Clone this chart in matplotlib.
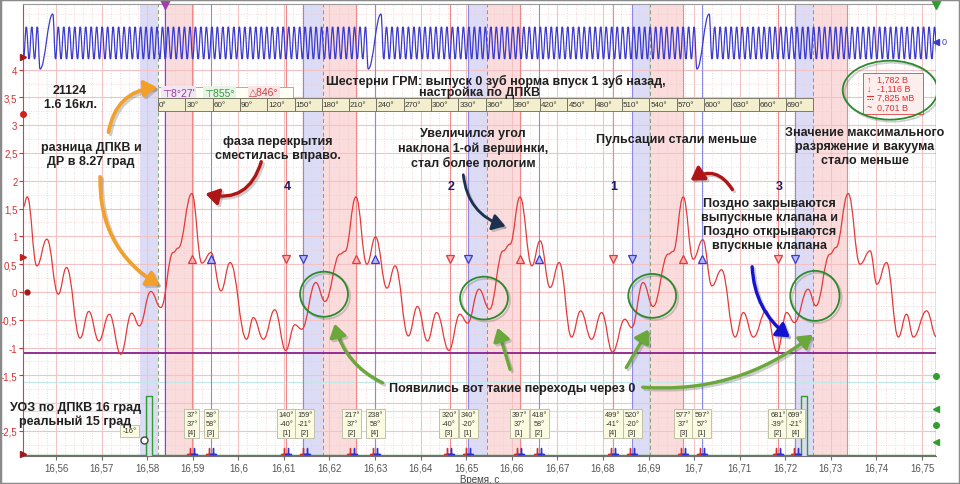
import matplotlib
matplotlib.use("Agg")
import matplotlib.pyplot as plt
import matplotlib.patheffects as pe
from matplotlib.path import Path
from matplotlib.patches import PathPatch, Rectangle, Ellipse, FancyArrowPatch
from matplotlib.ticker import MultipleLocator

plt.rcParams['font.family'] = ['Liberation Sans', 'DejaVu Sans']

# ── Channel A (red): pressure sensor, extrema (s, V) ─────────────────────────
press_t = [16.5528, 16.5537, 16.5558, 16.5580, 16.5605, 16.5623, 16.5653, 16.5672,
           16.5694, 16.5717, 16.5742, 16.5766, 16.5783, 16.5808, 16.5830, 16.5857,
           16.5868, 16.5898, 16.5920, 16.5940, 16.5962, 16.5982, 16.6018, 16.6033,
           16.6055, 16.6080, 16.6104, 16.6124, 16.6139, 16.6170, 16.6190, 16.6223,
           16.6234, 16.6258, 16.6282, 16.6301, 16.6326, 16.6344, 16.6373, 16.6393,
           16.6415, 16.6435, 16.6462, 16.6486, 16.6503, 16.6528, 16.6551, 16.6581,
           16.6596, 16.6618, 16.6644, 16.6662, 16.6684, 16.6704, 16.6731, 16.6751,
           16.6775, 16.6797, 16.6821, 16.6848, 16.6863, 16.6888, 16.6910, 16.6943,
           16.6954, 16.6976, 16.6998, 16.7019, 16.7039, 16.7060, 16.7090, 16.7108,
           16.7130, 16.7158, 16.7182, 16.7203, 16.7220, 16.7250, 16.7267, 16.7298,
           16.7311, 16.7338, 16.7364, 16.7386, 16.7401, 16.7422, 16.7448, 16.7466,
           16.7481, 16.7510, 16.7532]
press_v = [1.53, 1.71, 0.47, 0.95, -0.04, 0.44, -0.83, -0.35,
           -0.88, -0.40, -1.12, -0.38, -0.61, 0.01, -0.28, 0.71,
           0.79, 1.77, 0.52, 0.71, 0.02, 0.53, -0.85, -0.46,
           -0.85, -0.32, -1.05, -0.59, -0.67, 0.17, -0.17, 0.68,
           0.73, 1.71, 0.50, 0.99, 0.07, 0.47, -0.79, -0.26,
           -0.88, -0.37, -1.05, -0.40, -0.56, 0.05, -0.31, 0.74,
           0.86, 1.71, 0.47, 0.92, 0.08, 0.53, -0.81, -0.34,
           -0.85, -0.37, -1.08, -0.49, -0.64, 0.17, -0.26, 0.68,
           0.73, 1.71, 0.59, 0.94, 0.11, 0.40, -0.81, -0.37,
           -0.81, -0.34, -1.08, -0.37, -0.55, 0.05, -0.25, 0.68,
           0.80, 1.77, 0.50, 0.74, 0.14, 0.53, -0.81, -0.40,
           -0.81, -0.34, -0.81]

# ── Channel B (blue): crank sensor (ДПКВ), 60-2 wheel ─────────────────────────
crank_gap_t = [16.5565, 16.6285, 16.7006]      # bottom of the missing-tooth dip
crank_spike_t = [16.5593, 16.6313, 16.7033]    # overshoot after the gap
crank_hi, crank_lo = 4.77, 4.19
crank_gap_lo, crank_spike_hi = 4.01, 5.00
crank_half_pitch = 0.000603

# ── Channel C (green): ignition pulse ─────────────────────────────────────────
ign_t = [16.5528, 16.5797, 16.5810, 16.7234, 16.7248, 16.7531]
ign_v = [-2.93, -1.87, -2.93, -1.87, -2.93, -2.93]

# ── Markers / events ──────────────────────────────────────────────────────────
red_up_t = [16.5898, 16.6258, 16.6618, 16.6976]
blue_up_t = [16.5940, 16.6300, 16.6660, 16.7017]
red_dn_t = [16.6105, 16.6464, 16.6822, 16.7184]
blue_dn_t = [16.6142, 16.6504, 16.6864, 16.7221]
cyl_labels = ["4", "2", "1", "3"]

blue_bands = [(16.5784, 16.5824), (16.6142, 16.6186), (16.6504, 16.6546),
              (16.6864, 16.6903), (16.7221, 16.7261)]
pink_bands = [(16.5843, 16.5901), (16.6186, 16.6258), (16.6546, 16.6618),
              (16.6903, 16.6978), (16.7261, 16.7335)]

event_t = [16.5898, 16.5940, 16.6105, 16.6146, 16.6249, 16.6300, 16.6462, 16.6504,
           16.6616, 16.6660, 16.6822, 16.6864, 16.6976, 16.7017, 16.7184, 16.7223]
event_deg = ["37°", "58°", "140°", "159°", "217°", "238°", "320°", "340°",
             "397°", "418°", "499°", "520°", "577°", "597°", "681°", "699°"]
event_rel = ["37°", "58°", "-40°", "-21°", "37°", "58°", "-40°", "-20°",
             "37°", "58°", "-41°", "-20°", "37°", "57°", "-39°", "-21°"]
event_cyl = ["[4]", "[3]", "[1]", "[2]", "[2]", "[4]", "[3]", "[1]",
             "[1]", "[2]", "[4]", "[3]", "[3]", "[1]", "[2]", "[4]"]

ruler_deg = [0, 30, 60, 90, 120, 150, 180, 210, 240, 270, 300, 330,
             360, 390, 420, 450, 480, 510, 540, 570, 600, 630, 660, 690]
ruler_start, ruler_end = 16.5824, 16.7261

meas_icons = ["↑", "↓", "", "~"]
meas_vals = ["1,782 В", "-1,116 В", "7,825 мВ", "0,701 В"]

time_ticks = [16.56, 16.57, 16.58, 16.59, 16.60, 16.61, 16.62, 16.63, 16.64, 16.65,
              16.66, 16.67, 16.68, 16.69, 16.70, 16.71, 16.72, 16.73, 16.74, 16.75]
time_labels = ["16,56", "16,57", "16,58", "16,59", "16,6", "16,61", "16,62", "16,63",
               "16,64", "16,65", "16,66", "16,67", "16,68", "16,69", "16,7", "16,71",
               "16,72", "16,73", "16,74", "16,75"]
volt_ticks = [4, 3.5, 3, 2.5, 2, 1.5, 1, 0.5, 0, -0.5, -1, -1.5, -2, -2.5]
volt_labels = ["4", "3,5", "3", "2,5", "2", "1,5", "1", "0,5", "0", "-0,5", "-1",
               "-1,5", "", "-2,5"]

XLIM = (16.55276, 16.75306)
YLIM = (-2.95, 5.18)

RED = "#e23a3a"
BLUE = "#3a3ad0"
GREEN = "#2f9e2f"
PURPLE = "#8e1f8e"
TXT = "#202020"


def smooth_path(ts, vs, k=0.42):
    """Cubic bezier through extrema, flat tangent at every point."""
    verts = [(ts[0], vs[0])]
    codes = [Path.MOVETO]
    for i in range(1, len(ts)):
        dt = ts[i] - ts[i - 1]
        verts += [(ts[i - 1] + k * dt, vs[i - 1]), (ts[i] - k * dt, vs[i]), (ts[i], vs[i])]
        codes += [Path.CURVE4] * 3
    return Path(verts, codes)


def crank_extrema():
    ts, vs = [], []
    # teeth before the first gap
    n = int((crank_gap_t[0] - XLIM[0]) / crank_half_pitch) + 2
    for i in range(n, 0, -1):
        ts.append(crank_gap_t[0] - i * crank_half_pitch)
        vs.append(crank_lo if i % 2 == 0 else crank_hi)
    for k in range(len(crank_gap_t)):
        ts += [crank_gap_t[k], crank_spike_t[k]]
        vs += [crank_gap_lo, crank_spike_hi]
        if k + 1 < len(crank_gap_t):
            span = crank_gap_t[k + 1] - crank_spike_t[k]
            n = round(span / crank_half_pitch)
            if n % 2 == 0:
                n += 1
            step = span / n
            for i in range(1, n):
                ts.append(crank_spike_t[k] + i * step)
                vs.append(crank_lo if i % 2 else crank_hi)
        else:
            i = 1
            while crank_spike_t[k] + (i - 1) * crank_half_pitch < XLIM[1]:
                ts.append(crank_spike_t[k] + i * crank_half_pitch)
                vs.append(crank_lo if i % 2 else crank_hi)
                i += 1
    return ts, vs


fig = plt.figure(figsize=(9.6, 4.85), dpi=100)
ax = fig.add_axes([23 / 960, 28 / 485, 913 / 960, 452 / 485])
ax.set_xlim(*XLIM)
ax.set_ylim(*YLIM)

# ── Grid ──────────────────────────────────────────────────────────────────────
ax.set_xticks(time_ticks)
ax.set_xticklabels(time_labels)
ax.xaxis.set_minor_locator(MultipleLocator(0.002))
ax.set_yticks(volt_ticks)
ax.set_yticklabels(volt_labels)
ax.yaxis.set_minor_locator(MultipleLocator(0.25))
ax.grid(which="major", color="#f4c2c2", lw=0.8, zorder=0)
ax.grid(which="minor", color="#f1cccc", lw=0.6, ls=(0, (1, 2)), zorder=0)
ax.set_axisbelow(True)
for v in (-1.62, -2.14):
    ax.axhline(v, color="#c4e8e8", lw=0.8, zorder=0.6)

# ── Bands and event lines ─────────────────────────────────────────────────────
for a, b in blue_bands:
    ax.axvspan(a, b, color="#dcdcf6", lw=0, zorder=0.5)
    ax.axvline(b, color="#7f9f7f", lw=0.7, ls=(0, (4, 3)), zorder=1)
for a, b in pink_bands:
    ax.axvspan(a, b, color="#fbdcdc", lw=0, zorder=0.5)
for t in red_up_t + red_dn_t + [pink_bands[-1][1]]:
    ax.axvline(t, color="#f08a8a", lw=0.8, zorder=1)
for t in blue_up_t + blue_dn_t:
    ax.axvline(t, color="#8a8ae6", lw=0.8, zorder=1)

# cursors
ax.axvline(16.5839, color="#a040a8", lw=1.0, zorder=2)
ax.axvline(XLIM[1] - 0.00005, color=GREEN, lw=1.0, zorder=2)
ax.plot([16.5839], [YLIM[1]], marker="v", ms=7, color="#a040a8", clip_on=False, zorder=6)
ax.plot([XLIM[1] - 0.00005], [YLIM[1]], marker="v", ms=7, color=GREEN, clip_on=False, zorder=6)

# threshold line
ax.axhline(-1.1, color=PURPLE, lw=1.3, zorder=2)

# ── Traces ────────────────────────────────────────────────────────────────────
ct, cv = crank_extrema()
ax.add_patch(PathPatch(smooth_path(ct, cv, 0.4), fc="none", ec=BLUE, lw=0.9, zorder=3))
ax.add_patch(PathPatch(smooth_path(press_t, press_v), fc="none", ec=RED, lw=0.9, zorder=3))
ax.step(ign_t, ign_v, where="post", color=GREEN, lw=1.0, zorder=3)

# valve markers
mk = dict(ls="none", ms=5.5, mew=0.9, zorder=5)
ax.plot(red_up_t, [0.59] * 4, marker="^", mfc="#f8b0b0", mec=RED, **mk)
ax.plot(blue_up_t, [0.59] * 4, marker="^", mfc="#b8b8f4", mec=BLUE, **mk)
ax.plot(red_dn_t, [0.59] * 4, marker="v", mfc="#f8b0b0", mec=RED, **mk)
ax.plot(blue_dn_t, [0.59] * 4, marker="v", mfc="#b8b8f4", mec=BLUE, **mk)
for t, s in zip(red_dn_t, cyl_labels):
    ax.text(t + 0.0002, 1.90, s, color="#1c1c6e", fontsize=9, fontweight="bold",
            ha="center", va="center", zorder=6)

# event boxes at the bottom
for t, d, r, c in zip(event_t, event_deg, event_rel, event_cyl):
    ax.text(t, -2.14, f"{d}\n{r}\n{c}", fontsize=5.3, color="#333", ha="center", va="top",
            linespacing=1.45, zorder=7,
            bbox=dict(boxstyle="square,pad=0.25", fc="#fbfbe2", ec="#b9b9a0", lw=0.6))
    ax.plot([t - 0.0004], [-2.86], marker=r"$\perp$", ms=5, color="#d03030", zorder=6)
    ax.plot([t + 0.0004], [-2.86], marker=r"$\perp$", ms=5, color="#3030d0", zorder=6)

ax.text(16.5762, -2.50, "-16°", fontsize=5.5, color="#333", ha="center", va="center", zorder=7,
        bbox=dict(boxstyle="square,pad=0.3", fc="#fbfbe2", ec="#b9b9a0", lw=0.6))
ax.plot([16.5793], [-2.66], marker="o", ms=5, mfc="white", mec="#444", zorder=7)

# channel markers on the edges
ax.plot([XLIM[0]], [4.23], marker=">", ms=4, color="#a01818", clip_on=False, zorder=6)
ax.plot([XLIM[0]], [3.20], marker="o", ms=4, color="#d02020", clip_on=False, zorder=6)
ax.plot([XLIM[0]], [0.63], marker=">", ms=4, color="#c02020", clip_on=False, zorder=6)
ax.plot([XLIM[0] + 0.0008], [0.0], marker="o", ms=3.5, color="#a01818", clip_on=False, zorder=6)
ax.plot([XLIM[0]], [-2.92], marker=">", ms=4, color="#a01818", clip_on=False, zorder=6)
ax.plot([XLIM[1]], [4.50], marker="<", ms=4, color=BLUE, clip_on=False, zorder=6)
ax.text(XLIM[1] + 0.0013, 4.50, "0", color=BLUE, fontsize=6.5, va="center", clip_on=False)
for v, m in [(-1.51, "o"), (-2.10, "<"), (-2.39, "o"), (-2.70, "<")]:
    ax.plot([XLIM[1]], [v], marker=m, ms=4, color=GREEN, clip_on=False, zorder=6)

# ── Angle ruler ───────────────────────────────────────────────────────────────
seg = (ruler_end - ruler_start) / len(ruler_deg)
ax.add_patch(Rectangle((ruler_start, 3.49), 16.6120 - ruler_start, 0.20, fc="#fffff4",
                       ec="#a0a090", lw=0.6, zorder=7))
for i, d in enumerate(ruler_deg):
    x0 = ruler_start + i * seg
    ax.add_patch(Rectangle((x0, 3.26), seg, 0.23, fc="#f3eecd", ec="#6a6a5a", lw=0.6, zorder=7))
    ax.text(x0 + 0.0002, 3.38, f"{d}°", fontsize=5.8, color="#333", va="center", zorder=8)
ax.text(16.5833, 3.59, "⊤8°27'", color="#9a3aa0", fontsize=7.5, va="center", zorder=8,
        bbox=dict(boxstyle="square,pad=0.1", fc="#f3e6f3", ec="none"))
ax.text(16.5925, 3.59, "⊤855°", color="#3a9a3a", fontsize=7.5, va="center", zorder=8,
        bbox=dict(boxstyle="square,pad=0.1", fc="#e6f3e6", ec="none"))
ax.text(16.6024, 3.59, "△846°", color="#d04040", fontsize=7.5, va="center", zorder=8,
        bbox=dict(boxstyle="square,pad=0.1", fc="#f8e6e6", ec="none"))

# ── Measurement box ───────────────────────────────────────────────────────────
ax.add_patch(Rectangle((16.7370, 3.20), 0.0132, 0.74, fc="#fdeeee", ec="#e25a5a",
                       lw=0.7, zorder=7))
for i, (ic, val) in enumerate(zip(meas_icons, meas_vals)):
    y = 3.83 - i * 0.168
    ax.text(16.7378, y, ic, color="#e03030", fontsize=6.5, va="center", zorder=8)
    ax.text(16.7401, y, val, color="#e03030", fontsize=6.5, va="center", zorder=8)
# DC symbol (solid line over dashed line) drawn as a shape
y_dc = 3.83 - 2 * 0.168
ax.plot([16.7379, 16.7393], [y_dc + 0.03] * 2, color="#e03030", lw=0.8, zorder=8)
ax.plot([16.7379, 16.7393], [y_dc - 0.03] * 2, color="#e03030", lw=0.8, ls=(0, (1.2, 0.8)), zorder=8)

# ── Annotations ───────────────────────────────────────────────────────────────
note = dict(color=TXT, fontsize=9, fontweight="bold", ha="center", va="center",
            linespacing=1.25, zorder=9)
ax.text(16.5631, 3.507, "21124\n1.6 16кл.", **note)
ax.text(16.6565, 3.813, "Шестерни ГРМ: выпуск 0 зуб норма впуск 1 зуб назад,", **note)
ax.text(16.6530, 3.597, "настройка по ДПКВ", **note)
ax.text(16.5677, 2.482, "разница ДПКВ и\nДР в 8.27 град", **note)
ax.text(16.6087, 2.590, "фаза перекрытия\nсместилась вправо.", **note)
ax.text(16.6515, 2.590, "Увеличился угол\nнаклона 1-ой вершинки,\nстал более пологим", **note)
ax.text(16.6960, 2.752, "Пульсации стали меньше", **note)
ax.text(16.7375, 2.626, "Значение максимального\nразряжение и вакуума\nстало меньше", **note)
ax.text(16.7166, 1.223, "Поздно закрываются\nвыпускные клапана и\nПоздно открываются\nвпускные клапана", **note)
ax.text(16.6600, -1.727, "Появились вот такие переходы через 0", **note)
ax.text(16.5642, -2.194, "УОЗ по ДПКВ 16 град\nреальный 15 град", **note)

shadow = [pe.SimpleLineShadow(offset=(1.5, -1.5), alpha=0.3, shadow_color="#606060"),
          pe.Normal()]
for (c, v), w, h in [((16.6188, -0.04), 0.0105, 0.81), ((16.6539, -0.11), 0.0105, 0.77),
                     ((16.6908, -0.07), 0.0105, 0.79), ((16.7265, -0.07), 0.0108, 0.90),
                     ((16.7430, 3.63), 0.0208, 1.06)]:
    ax.add_patch(Ellipse((c, v), w, h, fill=False, ec="#2c8a2c", lw=1.3, zorder=9,
                         path_effects=shadow))

arrows = [
    ((16.5714, 2.824), (16.5828, 3.687), -0.4, "#f2a02a", 2.6),
    ((16.5697, 2.122), (16.5833, 0.090), 0.3, "#f2a02a", 2.6),
    ((16.6052, 2.392), (16.5922, 1.781), -0.5, "#b01515", 2.4),
    ((16.6493, 2.158), (16.6592, 1.169), 0.35, "#1c3050", 2.0),
    ((16.7087, 1.799), (16.6987, 1.978), 0.55, "#b01515", 2.4),
    ((16.7127, 0.504), (16.7215, -0.845), 0.25, "#1414d0", 2.4),
    ((16.6322, -1.655), (16.6210, -0.522), -0.25, "#6aa83c", 2.4),
    ((16.6598, -1.439), (16.6567, -0.594), 0.0, "#6aa83c", 2.4),
    ((16.6848, -1.403), (16.6903, -0.630), 0.0, "#6aa83c", 2.4),
    ((16.6881, -1.709), (16.7265, -0.737), 0.2, "#6aa83c", 2.4),
]
for a, b, rad, col, lw in arrows:
    ax.add_patch(FancyArrowPatch(a, b, connectionstyle=f"arc3,rad={rad}",
                                 arrowstyle="-|>,head_length=0.55,head_width=0.35",
                                 mutation_scale=14, color=col, lw=lw, zorder=9,
                                 path_effects=shadow))

# ── Axes styling ──────────────────────────────────────────────────────────────
ax.spines["left"].set_color("#d84040")
ax.spines["bottom"].set_color("#707070")
ax.spines["top"].set_color("#9a9a9a")
ax.spines["right"].set_visible(False)
ax.tick_params(axis="y", colors="#d83030", labelsize=7, length=3, pad=1)
ax.tick_params(axis="x", colors="#707070", labelcolor="#555", labelsize=7, length=3, pad=2)
ax.tick_params(which="minor", length=0)
ax.set_xlabel("Время, с", fontsize=7, color="#444", labelpad=1)

fig.patches.append(Rectangle((0, 0), 1, 1, transform=fig.transFigure, fill=False,
                             ec="#8a8a8a", lw=2.5))

fig.savefig("out.png", dpi=100)
